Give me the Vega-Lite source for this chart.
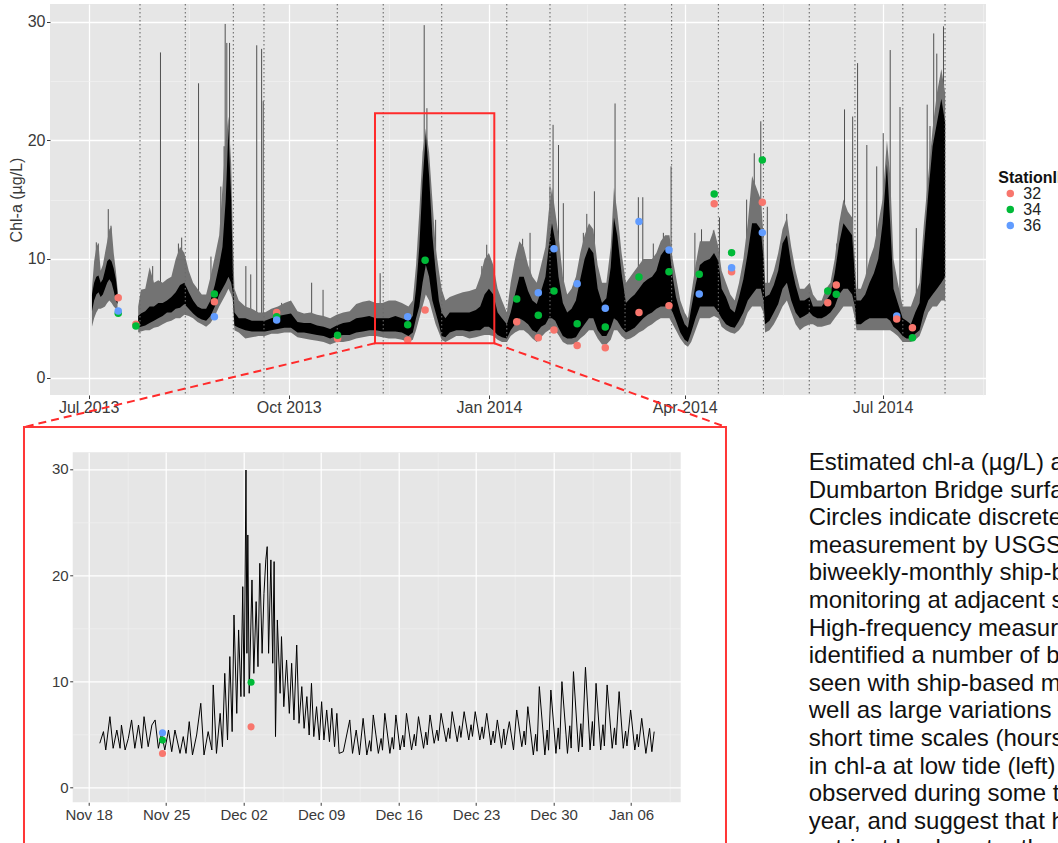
{
"$schema": "https://vega.github.io/schema/vega-lite/v6.json",
"autosize": {"type": "none"},
"padding": {"left": 50, "top": 4, "right": 1008, "bottom": 839},
"bounds": "flush",
"spacing": 57.3,
"config": {
  "font": "Liberation Sans",
  "view": {"stroke": null},
  "axis": {"domain": false, "labelColor": "#3a3a3a", "tickColor": "#3a3a3a", "tickWidth": 1}
},
"resolve": {"scale": {"color": "independent"}, "legend": {"color": "independent"}},
"datasets": {
  "hf": [
    {"t":"2013-07-02T12:00","lo":4.3,"hi":7.5,"a":5.6,"b":7.0,"g":1},
    {"t":"2013-07-03T12:00","lo":5.0,"hi":9.8,"a":6.5,"b":8.0,"g":1},
    {"t":"2013-07-04T12:00","lo":5.5,"hi":11.0,"a":7.0,"b":8.5,"g":1},
    {"t":"2013-07-05T12:00","lo":5.8,"hi":11.3,"a":7.2,"b":8.6,"g":1},
    {"t":"2013-07-06T12:00","lo":5.8,"hi":9.0,"a":6.8,"b":8.0,"g":1},
    {"t":"2013-07-07T12:00","lo":5.9,"hi":9.5,"a":7.0,"b":8.3,"g":1},
    {"t":"2013-07-08T12:00","lo":6.0,"hi":10.5,"a":7.5,"b":9.0,"g":1},
    {"t":"2013-07-09T12:00","lo":6.3,"hi":11.5,"a":8.0,"b":9.8,"g":1},
    {"t":"2013-07-10T12:00","lo":6.5,"hi":12.5,"a":8.3,"b":10.0,"g":1},
    {"t":"2013-07-11T12:00","lo":6.3,"hi":12.7,"a":8.0,"b":9.8,"g":1},
    {"t":"2013-07-12T12:00","lo":6.0,"hi":10.5,"a":7.3,"b":9.2,"g":1},
    {"t":"2013-07-13T12:00","lo":5.8,"hi":9.0,"a":6.5,"b":8.3,"g":1},
    {"t":"2013-07-14T06:00","lo":5.8,"hi":7.5,"a":6.2,"b":7.2,"g":1},
    {"t":"2013-07-23T18:00","lo":3.8,"hi":6.0,"a":4.2,"b":5.2,"g":2},
    {"t":"2013-07-25T00:00","lo":3.9,"hi":7.4,"a":4.3,"b":5.4,"g":2},
    {"t":"2013-07-27T00:00","lo":4.0,"hi":7.5,"a":4.4,"b":5.6,"g":2},
    {"t":"2013-07-29T00:00","lo":4.0,"hi":9.3,"a":4.6,"b":6.0,"g":2},
    {"t":"2013-07-31T00:00","lo":4.2,"hi":8.0,"a":4.8,"b":6.0,"g":2},
    {"t":"2013-08-02T00:00","lo":4.3,"hi":8.2,"a":5.0,"b":6.3,"g":2},
    {"t":"2013-08-04T00:00","lo":4.5,"hi":8.0,"a":5.2,"b":6.3,"g":2},
    {"t":"2013-08-06T00:00","lo":4.7,"hi":8.3,"a":5.5,"b":6.5,"g":2},
    {"t":"2013-08-08T00:00","lo":4.8,"hi":8.5,"a":5.5,"b":6.8,"g":2},
    {"t":"2013-08-10T00:00","lo":5.0,"hi":10.0,"a":5.8,"b":7.2,"g":2},
    {"t":"2013-08-12T00:00","lo":5.0,"hi":11.0,"a":5.9,"b":7.8,"g":2},
    {"t":"2013-08-14T00:00","lo":5.3,"hi":10.5,"a":6.2,"b":8.0,"g":2},
    {"t":"2013-08-16T00:00","lo":5.2,"hi":9.0,"a":5.8,"b":7.2,"g":2},
    {"t":"2013-08-18T00:00","lo":5.0,"hi":8.0,"a":5.4,"b":6.5,"g":2},
    {"t":"2013-08-20T00:00","lo":4.7,"hi":7.5,"a":5.1,"b":6.0,"g":2},
    {"t":"2013-08-22T00:00","lo":4.5,"hi":7.0,"a":4.9,"b":5.8,"g":2},
    {"t":"2013-08-24T00:00","lo":4.3,"hi":7.0,"a":4.8,"b":5.8,"g":2},
    {"t":"2013-08-26T00:00","lo":4.6,"hi":8.5,"a":5.2,"b":6.5,"g":2},
    {"t":"2013-08-28T00:00","lo":5.2,"hi":10.2,"a":6.0,"b":7.8,"g":2},
    {"t":"2013-08-30T00:00","lo":6.0,"hi":12.0,"a":7.0,"b":9.5,"g":2},
    {"t":"2013-08-31T12:00","lo":6.5,"hi":16.0,"a":7.5,"b":11.0,"g":2},
    {"t":"2013-09-02T00:00","lo":7.0,"hi":20.0,"a":8.0,"b":15.0,"g":2},
    {"t":"2013-09-03T06:00","lo":7.5,"hi":22.0,"a":8.5,"b":21.0,"g":2},
    {"t":"2013-09-04T12:00","lo":7.0,"hi":18.0,"a":8.0,"b":15.0,"g":2},
    {"t":"2013-09-05T06:00","lo":6.5,"hi":12.0,"a":7.2,"b":9.0,"g":2},
    {"t":"2013-09-06T00:00","lo":4.0,"hi":7.5,"a":4.4,"b":5.5,"g":2},
    {"t":"2013-09-08T00:00","lo":3.8,"hi":6.5,"a":4.2,"b":5.0,"g":2},
    {"t":"2013-09-11T00:00","lo":3.3,"hi":6.0,"a":4.0,"b":5.0,"g":2},
    {"t":"2013-09-14T00:00","lo":3.4,"hi":5.8,"a":3.9,"b":4.8,"g":2},
    {"t":"2013-09-17T00:00","lo":3.5,"hi":5.5,"a":3.9,"b":4.8,"g":2},
    {"t":"2013-09-20T00:00","lo":3.5,"hi":5.5,"a":3.9,"b":4.8,"g":2},
    {"t":"2013-09-23T00:00","lo":3.7,"hi":5.8,"a":4.0,"b":5.0,"g":2},
    {"t":"2013-09-26T00:00","lo":3.7,"hi":6.0,"a":4.1,"b":5.2,"g":2},
    {"t":"2013-09-29T00:00","lo":3.8,"hi":6.3,"a":4.2,"b":5.3,"g":2},
    {"t":"2013-10-02T00:00","lo":3.8,"hi":6.5,"a":4.2,"b":5.4,"g":2},
    {"t":"2013-10-05T00:00","lo":3.4,"hi":5.6,"a":3.8,"b":4.7,"g":2},
    {"t":"2013-10-08T00:00","lo":3.3,"hi":5.4,"a":3.8,"b":4.6,"g":2},
    {"t":"2013-10-11T00:00","lo":3.2,"hi":5.5,"a":3.7,"b":4.6,"g":2},
    {"t":"2013-10-14T00:00","lo":3.1,"hi":5.3,"a":3.6,"b":4.4,"g":2},
    {"t":"2013-10-17T00:00","lo":3.0,"hi":5.2,"a":3.5,"b":4.3,"g":2},
    {"t":"2013-10-20T00:00","lo":2.8,"hi":5.0,"a":3.3,"b":4.1,"g":2},
    {"t":"2013-10-23T00:00","lo":3.0,"hi":5.3,"a":3.5,"b":4.4,"g":2},
    {"t":"2013-10-26T00:00","lo":3.0,"hi":5.5,"a":3.6,"b":4.6,"g":2},
    {"t":"2013-10-29T00:00","lo":3.1,"hi":5.6,"a":3.6,"b":4.7,"g":2},
    {"t":"2013-11-01T00:00","lo":3.3,"hi":6.2,"a":3.8,"b":5.0,"g":2},
    {"t":"2013-11-04T00:00","lo":3.4,"hi":6.4,"a":3.9,"b":5.1,"g":2},
    {"t":"2013-11-07T00:00","lo":3.5,"hi":6.5,"a":4.0,"b":5.2,"g":2},
    {"t":"2013-11-10T00:00","lo":3.5,"hi":6.3,"a":4.0,"b":5.0,"g":2},
    {"t":"2013-11-13T00:00","lo":3.4,"hi":6.3,"a":3.9,"b":5.0,"g":2},
    {"t":"2013-11-16T00:00","lo":3.3,"hi":6.5,"a":3.9,"b":5.0,"g":2},
    {"t":"2013-11-19T00:00","lo":3.3,"hi":6.5,"a":3.9,"b":5.2,"g":2},
    {"t":"2013-11-22T00:00","lo":3.2,"hi":6.3,"a":3.8,"b":5.0,"g":2},
    {"t":"2013-11-25T00:00","lo":3.0,"hi":6.0,"a":3.5,"b":4.8,"g":2},
    {"t":"2013-11-27T00:00","lo":3.2,"hi":6.5,"a":3.8,"b":5.2,"g":2},
    {"t":"2013-11-28T12:00","lo":4.0,"hi":9.5,"a":5.0,"b":7.5,"g":2},
    {"t":"2013-11-30T00:00","lo":5.0,"hi":14.0,"a":6.0,"b":11.0,"g":2},
    {"t":"2013-12-01T12:00","lo":6.0,"hi":19.0,"a":8.0,"b":16.5,"g":2},
    {"t":"2013-12-03T00:00","lo":7.0,"hi":21.0,"a":9.5,"b":20.5,"g":2},
    {"t":"2013-12-04T12:00","lo":6.5,"hi":19.0,"a":8.5,"b":17.0,"g":2},
    {"t":"2013-12-06T00:00","lo":5.5,"hi":15.0,"a":6.5,"b":12.0,"g":2},
    {"t":"2013-12-07T12:00","lo":4.5,"hi":11.0,"a":5.5,"b":9.0,"g":2},
    {"t":"2013-12-09T00:00","lo":3.8,"hi":9.0,"a":4.5,"b":6.5,"g":2},
    {"t":"2013-12-10T06:00","lo":3.2,"hi":7.5,"a":3.5,"b":5.5,"g":2},
    {"t":"2013-12-12T00:00","lo":3.0,"hi":6.5,"a":3.4,"b":5.0,"g":2},
    {"t":"2013-12-14T00:00","lo":3.2,"hi":6.8,"a":3.8,"b":5.5,"g":2},
    {"t":"2013-12-17T00:00","lo":3.5,"hi":7.0,"a":4.0,"b":5.5,"g":2},
    {"t":"2013-12-20T00:00","lo":3.5,"hi":7.2,"a":4.0,"b":5.5,"g":2},
    {"t":"2013-12-23T00:00","lo":3.3,"hi":7.3,"a":3.9,"b":5.5,"g":2},
    {"t":"2013-12-26T00:00","lo":3.4,"hi":7.5,"a":4.0,"b":5.7,"g":2},
    {"t":"2013-12-28T00:00","lo":3.5,"hi":8.5,"a":4.0,"b":6.0,"g":2},
    {"t":"2013-12-30T00:00","lo":3.6,"hi":10.0,"a":4.3,"b":7.0,"g":2},
    {"t":"2014-01-01T00:00","lo":3.6,"hi":10.5,"a":4.3,"b":7.5,"g":2},
    {"t":"2014-01-03T00:00","lo":3.5,"hi":9.5,"a":4.0,"b":7.0,"g":2},
    {"t":"2014-01-05T00:00","lo":3.2,"hi":7.5,"a":3.6,"b":5.5,"g":2},
    {"t":"2014-01-07T00:00","lo":3.0,"hi":6.5,"a":3.4,"b":5.0,"g":2},
    {"t":"2014-01-09T06:00","lo":3.0,"hi":5.5,"a":3.3,"b":4.5,"g":2},
    {"t":"2014-01-11T00:00","lo":3.5,"hi":8.0,"a":4.0,"b":5.5,"g":2},
    {"t":"2014-01-13T00:00","lo":3.8,"hi":10.0,"a":4.5,"b":7.0,"g":2},
    {"t":"2014-01-15T00:00","lo":4.0,"hi":11.5,"a":5.0,"b":8.5,"g":2},
    {"t":"2014-01-17T00:00","lo":4.0,"hi":11.0,"a":4.8,"b":8.5,"g":2},
    {"t":"2014-01-19T00:00","lo":3.7,"hi":9.5,"a":4.5,"b":7.3,"g":2},
    {"t":"2014-01-21T00:00","lo":3.3,"hi":8.5,"a":4.0,"b":6.5,"g":2},
    {"t":"2014-01-23T00:00","lo":3.0,"hi":8.0,"a":3.8,"b":6.2,"g":2},
    {"t":"2014-01-25T00:00","lo":3.4,"hi":9.5,"a":4.3,"b":7.3,"g":2},
    {"t":"2014-01-27T00:00","lo":3.8,"hi":11.0,"a":4.5,"b":8.5,"g":2},
    {"t":"2014-01-28T12:00","lo":4.0,"hi":14.0,"a":5.0,"b":11.0,"g":2},
    {"t":"2014-01-30T00:00","lo":4.2,"hi":16.0,"a":5.0,"b":13.0,"g":2},
    {"t":"2014-01-31T12:00","lo":4.0,"hi":14.0,"a":4.8,"b":11.5,"g":2},
    {"t":"2014-02-02T00:00","lo":3.6,"hi":12.0,"a":4.2,"b":8.5,"g":2},
    {"t":"2014-02-04T00:00","lo":3.0,"hi":8.5,"a":3.5,"b":6.3,"g":2},
    {"t":"2014-02-06T00:00","lo":2.8,"hi":7.0,"a":3.3,"b":5.5,"g":2},
    {"t":"2014-02-08T00:00","lo":2.8,"hi":7.5,"a":3.3,"b":5.8,"g":2},
    {"t":"2014-02-10T00:00","lo":2.9,"hi":8.5,"a":3.4,"b":6.5,"g":2},
    {"t":"2014-02-12T00:00","lo":3.3,"hi":10.5,"a":4.0,"b":8.3,"g":2},
    {"t":"2014-02-14T00:00","lo":3.6,"hi":12.0,"a":4.5,"b":10.0,"g":2},
    {"t":"2014-02-16T00:00","lo":4.0,"hi":13.0,"a":5.0,"b":11.0,"g":2},
    {"t":"2014-02-18T00:00","lo":4.0,"hi":12.5,"a":5.0,"b":10.5,"g":2},
    {"t":"2014-02-20T00:00","lo":3.3,"hi":9.5,"a":4.0,"b":7.5,"g":2},
    {"t":"2014-02-22T00:00","lo":2.8,"hi":8.0,"a":3.5,"b":6.3,"g":2},
    {"t":"2014-02-24T00:00","lo":2.8,"hi":8.0,"a":3.5,"b":6.7,"g":2},
    {"t":"2014-02-26T00:00","lo":3.2,"hi":11.0,"a":4.2,"b":9.3,"g":2},
    {"t":"2014-02-27T12:00","lo":4.0,"hi":16.0,"a":5.0,"b":13.5,"g":2},
    {"t":"2014-03-01T00:00","lo":4.0,"hi":14.0,"a":4.8,"b":12.0,"g":2},
    {"t":"2014-03-03T00:00","lo":3.5,"hi":10.5,"a":4.2,"b":8.8,"g":2},
    {"t":"2014-03-05T00:00","lo":3.2,"hi":8.0,"a":3.8,"b":6.3,"g":2},
    {"t":"2014-03-07T00:00","lo":3.3,"hi":8.5,"a":4.0,"b":6.7,"g":2},
    {"t":"2014-03-09T00:00","lo":3.5,"hi":9.0,"a":4.2,"b":7.0,"g":2},
    {"t":"2014-03-11T00:00","lo":3.8,"hi":9.5,"a":4.6,"b":7.5,"g":2},
    {"t":"2014-03-13T00:00","lo":4.0,"hi":10.0,"a":5.0,"b":8.0,"g":2},
    {"t":"2014-03-15T00:00","lo":4.3,"hi":10.0,"a":5.3,"b":8.3,"g":2},
    {"t":"2014-03-17T00:00","lo":4.5,"hi":10.0,"a":5.5,"b":8.5,"g":2},
    {"t":"2014-03-19T00:00","lo":4.8,"hi":10.5,"a":5.8,"b":9.0,"g":2},
    {"t":"2014-03-21T00:00","lo":5.0,"hi":11.5,"a":6.0,"b":10.3,"g":2},
    {"t":"2014-03-23T00:00","lo":5.0,"hi":12.0,"a":6.0,"b":10.8,"g":2},
    {"t":"2014-03-25T00:00","lo":5.0,"hi":12.0,"a":6.0,"b":10.8,"g":2},
    {"t":"2014-03-26T12:00","lo":4.5,"hi":10.0,"a":5.5,"b":8.5,"g":2},
    {"t":"2014-03-28T00:00","lo":4.0,"hi":8.5,"a":4.8,"b":6.8,"g":2},
    {"t":"2014-03-30T00:00","lo":3.3,"hi":6.5,"a":3.8,"b":5.5,"g":2},
    {"t":"2014-04-01T00:00","lo":2.8,"hi":5.5,"a":3.2,"b":4.5,"g":2},
    {"t":"2014-04-02T12:00","lo":2.6,"hi":5.0,"a":3.0,"b":4.2,"g":2},
    {"t":"2014-04-04T00:00","lo":3.0,"hi":7.0,"a":3.8,"b":5.8,"g":2},
    {"t":"2014-04-06T00:00","lo":4.0,"hi":9.5,"a":5.0,"b":7.8,"g":2},
    {"t":"2014-04-08T00:00","lo":5.0,"hi":11.5,"a":6.0,"b":9.5,"g":2},
    {"t":"2014-04-10T00:00","lo":5.0,"hi":11.5,"a":6.0,"b":9.8,"g":2},
    {"t":"2014-04-12T12:00","lo":5.0,"hi":11.5,"a":6.0,"b":10.0,"g":2},
    {"t":"2014-04-14T12:00","lo":5.2,"hi":12.5,"a":6.0,"b":10.5,"g":2},
    {"t":"2014-04-16T12:00","lo":5.0,"hi":11.0,"a":5.5,"b":9.8,"g":2},
    {"t":"2014-04-18T00:00","lo":4.3,"hi":9.0,"a":5.0,"b":7.5,"g":2},
    {"t":"2014-04-20T00:00","lo":4.0,"hi":8.0,"a":4.5,"b":6.8,"g":2},
    {"t":"2014-04-22T00:00","lo":3.8,"hi":7.0,"a":4.3,"b":5.8,"g":2},
    {"t":"2014-04-24T00:00","lo":3.7,"hi":6.5,"a":4.2,"b":5.5,"g":2},
    {"t":"2014-04-26T00:00","lo":4.0,"hi":8.0,"a":4.8,"b":6.8,"g":2},
    {"t":"2014-04-28T00:00","lo":4.5,"hi":10.0,"a":5.5,"b":8.3,"g":2},
    {"t":"2014-04-30T00:00","lo":5.5,"hi":13.0,"a":6.5,"b":10.5,"g":2},
    {"t":"2014-05-02T00:00","lo":6.0,"hi":17.0,"a":7.0,"b":13.0,"g":2},
    {"t":"2014-05-04T00:00","lo":6.0,"hi":16.0,"a":7.5,"b":13.0,"g":2},
    {"t":"2014-05-06T00:00","lo":6.0,"hi":15.0,"a":7.5,"b":12.5,"g":2},
    {"t":"2014-05-07T06:00","lo":5.5,"hi":12.0,"a":6.5,"b":10.0,"g":2},
    {"t":"2014-05-08T00:00","lo":3.8,"hi":8.0,"a":4.5,"b":6.8,"g":2},
    {"t":"2014-05-10T00:00","lo":4.0,"hi":8.0,"a":4.8,"b":7.0,"g":2},
    {"t":"2014-05-12T00:00","lo":4.5,"hi":9.0,"a":5.5,"b":7.8,"g":2},
    {"t":"2014-05-14T00:00","lo":5.2,"hi":10.5,"a":6.2,"b":9.0,"g":2},
    {"t":"2014-05-16T00:00","lo":6.0,"hi":12.5,"a":7.5,"b":11.3,"g":2},
    {"t":"2014-05-18T00:00","lo":6.5,"hi":13.5,"a":8.0,"b":12.0,"g":2},
    {"t":"2014-05-20T00:00","lo":5.5,"hi":11.0,"a":6.5,"b":9.5,"g":2},
    {"t":"2014-05-22T00:00","lo":4.5,"hi":9.0,"a":5.5,"b":7.8,"g":2},
    {"t":"2014-05-24T00:00","lo":4.0,"hi":7.5,"a":5.0,"b":6.5,"g":2},
    {"t":"2014-05-26T00:00","lo":4.3,"hi":7.5,"a":5.2,"b":6.5,"g":2},
    {"t":"2014-05-28T12:00","lo":4.5,"hi":8.0,"a":5.5,"b":6.8,"g":2},
    {"t":"2014-05-30T00:00","lo":4.5,"hi":7.0,"a":5.2,"b":6.0,"g":2},
    {"t":"2014-06-01T00:00","lo":4.3,"hi":6.5,"a":5.0,"b":6.0,"g":2},
    {"t":"2014-06-03T00:00","lo":4.3,"hi":6.5,"a":5.0,"b":6.0,"g":2},
    {"t":"2014-06-05T00:00","lo":4.4,"hi":7.5,"a":5.2,"b":6.5,"g":2},
    {"t":"2014-06-07T00:00","lo":4.5,"hi":8.0,"a":5.5,"b":7.0,"g":2},
    {"t":"2014-06-09T00:00","lo":5.0,"hi":10.0,"a":6.0,"b":8.8,"g":2},
    {"t":"2014-06-11T00:00","lo":5.5,"hi":13.0,"a":7.0,"b":11.3,"g":2},
    {"t":"2014-06-13T00:00","lo":6.0,"hi":15.0,"a":7.5,"b":13.0,"g":2},
    {"t":"2014-06-15T00:00","lo":6.0,"hi":14.0,"a":7.5,"b":12.5,"g":2},
    {"t":"2014-06-17T00:00","lo":6.0,"hi":13.5,"a":7.0,"b":12.0,"g":2},
    {"t":"2014-06-18T06:00","lo":5.0,"hi":10.0,"a":6.0,"b":8.5,"g":2},
    {"t":"2014-06-19T00:00","lo":4.0,"hi":7.5,"a":4.5,"b":6.5,"g":2},
    {"t":"2014-06-21T00:00","lo":4.0,"hi":7.5,"a":4.5,"b":6.5,"g":2},
    {"t":"2014-06-23T00:00","lo":4.0,"hi":8.5,"a":4.8,"b":7.0,"g":2},
    {"t":"2014-06-25T00:00","lo":4.0,"hi":10.0,"a":5.0,"b":8.0,"g":2},
    {"t":"2014-06-27T00:00","lo":4.0,"hi":11.0,"a":5.0,"b":8.8,"g":2},
    {"t":"2014-06-29T00:00","lo":4.0,"hi":13.0,"a":5.0,"b":10.0,"g":2},
    {"t":"2014-07-01T00:00","lo":4.0,"hi":15.0,"a":5.0,"b":13.0,"g":2},
    {"t":"2014-07-03T00:00","lo":4.0,"hi":20.0,"a":5.0,"b":18.0,"g":2},
    {"t":"2014-07-04T12:00","lo":4.0,"hi":17.0,"a":4.8,"b":13.0,"g":2},
    {"t":"2014-07-06T00:00","lo":3.8,"hi":10.0,"a":4.3,"b":7.5,"g":2},
    {"t":"2014-07-08T00:00","lo":3.5,"hi":8.0,"a":4.0,"b":6.3,"g":2},
    {"t":"2014-07-10T06:00","lo":3.0,"hi":6.0,"a":3.5,"b":5.0,"g":2},
    {"t":"2014-07-12T00:00","lo":3.0,"hi":6.0,"a":3.3,"b":4.8,"g":2},
    {"t":"2014-07-14T00:00","lo":3.0,"hi":6.0,"a":3.3,"b":4.5,"g":2},
    {"t":"2014-07-16T00:00","lo":3.2,"hi":7.0,"a":3.7,"b":5.5,"g":2},
    {"t":"2014-07-18T00:00","lo":3.5,"hi":8.0,"a":4.0,"b":6.3,"g":2},
    {"t":"2014-07-20T00:00","lo":4.5,"hi":13.0,"a":5.5,"b":11.0,"g":2},
    {"t":"2014-07-22T00:00","lo":5.5,"hi":17.0,"a":6.5,"b":15.5,"g":2},
    {"t":"2014-07-24T00:00","lo":6.0,"hi":21.0,"a":7.0,"b":19.5,"g":2},
    {"t":"2014-07-26T00:00","lo":6.0,"hi":24.0,"a":7.5,"b":21.5,"g":2},
    {"t":"2014-07-28T00:00","lo":6.5,"hi":26.0,"a":8.0,"b":23.5,"g":2},
    {"t":"2014-07-29T18:00","lo":6.5,"hi":24.0,"a":8.5,"b":21.5,"g":2}
  ],
  "spk": [
    {"t":"2013-07-04T12:00","v":11.4,"b":7.5},{"t":"2013-07-05T10:00","v":11.3,"b":7.5},{"t":"2013-07-10T00:00","v":14.2,"b":8.5},{"t":"2013-07-11T06:00","v":12.8,"b":8.5},
    {"t":"2013-07-30T10:00","v":9.4,"b":5.2},{"t":"2013-08-03T00:00","v":27.4,"b":5.6},{"t":"2013-08-11T06:00","v":11.3,"b":6.5},{"t":"2013-08-12T18:00","v":11.8,"b":6.8},
    {"t":"2013-08-20T12:00","v":24.8,"b":5.5},{"t":"2013-08-26T05:00","v":10.2,"b":5.8},{"t":"2013-08-28T19:00","v":9.9,"b":7.0},{"t":"2013-08-30T18:00","v":16.1,"b":8.5},{"t":"2013-09-01T06:00","v":19.5,"b":9.5},
    {"t":"2013-09-01T18:00","v":29.8,"b":10},{"t":"2013-09-02T12:00","v":28.2,"b":10},{"t":"2013-09-03T18:00","v":28.2,"b":10},
    {"t":"2013-09-11T06:00","v":9.4,"b":4.5},{"t":"2013-09-13T12:00","v":8.7,"b":4.4},{"t":"2013-09-16T06:00","v":28.0,"b":4.4},
    {"t":"2013-09-18T12:00","v":27.7,"b":4.4},{"t":"2013-09-19T06:00","v":23.3,"b":4.4},{"t":"2013-09-27T17:00","v":6.3,"b":4.6},{"t":"2013-10-02T12:00","v":6.2,"b":4.6},{"t":"2013-10-11T12:00","v":8.0,"b":4.1},
    {"t":"2013-10-16T18:00","v":7.4,"b":4.0},{"t":"2013-11-12T00:00","v":8.8,"b":4.5},{"t":"2013-12-02T06:00","v":29.7,"b":12},
    {"t":"2013-12-03T12:00","v":22.7,"b":12},{"t":"2013-12-07T12:00","v":13.3,"b":7.0},{"t":"2013-12-28T18:00","v":9.4,"b":5.5},
    {"t":"2013-12-31T00:00","v":11.2,"b":5.8},{"t":"2014-01-16T12:00","v":11.7,"b":6.5},{"t":"2014-01-19T22:00","v":12.2,"b":5.8},{"t":"2014-01-29T02:00","v":16.1,"b":8.0},{"t":"2014-01-30T12:00","v":21.3,"b":9.0},
    {"t":"2014-02-02T00:00","v":19.6,"b":6.5},{"t":"2014-02-04T05:00","v":14.7,"b":5.0},{"t":"2014-02-13T10:00","v":12.2,"b":7.0},{"t":"2014-02-15T00:00","v":13.8,"b":7.5},{"t":"2014-02-18T12:00","v":15.7,"b":7.5},
    {"t":"2014-02-28T00:00","v":23.1,"b":9.0},{"t":"2014-03-10T17:00","v":15.2,"b":6.0},{"t":"2014-03-12T18:00","v":15.2,"b":6.5},{"t":"2014-03-17T14:00","v":11.3,"b":7.0},{"t":"2014-03-22T05:00","v":12.2,"b":8.0},{"t":"2014-03-25T18:00","v":17.8,"b":8.0},
    {"t":"2014-04-05T17:00","v":12.2,"b":6.5},{"t":"2014-04-08T18:00","v":12.5,"b":7.5},{"t":"2014-04-14T05:00","v":12.4,"b":8.0},{"t":"2014-04-17T00:00","v":13.5,"b":6.5},{"t":"2014-04-29T12:00","v":15.0,"b":8.0},{"t":"2014-05-03T00:00","v":18.9,"b":10},
    {"t":"2014-05-06T00:00","v":21.6,"b":10},{"t":"2014-05-09T00:00","v":14.4,"b":6.0},{"t":"2014-05-17T22:00","v":13.8,"b":9.5},{"t":"2014-06-09T22:00","v":11.3,"b":7.5},{"t":"2014-06-13T12:00","v":22.6,"b":10},{"t":"2014-06-17T06:00","v":22.0,"b":9.5},
    {"t":"2014-06-19T12:00","v":26.5,"b":5.5},{"t":"2014-06-23T18:00","v":19.6,"b":6.0},{"t":"2014-06-28T07:00","v":17.8,"b":7.5},{"t":"2014-07-01T07:00","v":20.6,"b":9.0},{"t":"2014-07-04T12:00","v":27.6,"b":9.0},{"t":"2014-07-09T00:00","v":22.8,"b":5.0},
    {"t":"2014-07-16T12:00","v":12.6,"b":4.7},{"t":"2014-07-21T12:00","v":23.0,"b":9.5},{"t":"2014-07-22T19:00","v":21.2,"b":10.5},{"t":"2014-07-24T12:00","v":29.0,"b":13},{"t":"2014-07-25T22:00","v":27.3,"b":13.5},
    {"t":"2014-07-27T06:00","v":25.0,"b":14},{"t":"2014-07-29T00:00","v":29.6,"b":14}
  ],
  "dep": [
    {"t":"2013-07-24T14:00"},{"t":"2013-08-14T10:00"},{"t":"2013-09-05T12:00"},{"t":"2013-09-19T14:00"},
    {"t":"2013-10-23T07:00"},{"t":"2013-11-13T10:00"},{"t":"2013-12-10T07:00"},{"t":"2014-01-09T05:00"},
    {"t":"2014-01-29T02:00"},{"t":"2014-03-04T14:00"},{"t":"2014-03-26T00:00"},{"t":"2014-04-16T12:00"},
    {"t":"2014-05-07T05:00"},{"t":"2014-05-28T07:00"},{"t":"2014-06-18T07:00"},{"t":"2014-07-10T07:00"},
    {"t":"2014-07-29T17:00"}
  ],
  "pts": [
    {"t":"2013-07-14T14:00","v":6.74,"s":"32"},{"t":"2013-07-14T14:00","v":5.42,"s":"34"},{"t":"2013-07-14T14:00","v":5.62,"s":"36"},
    {"t":"2013-07-22T17:00","v":4.5,"s":"32"},{"t":"2013-07-22T17:00","v":4.35,"s":"34"},
    {"t":"2013-08-27T19:00","v":6.4,"s":"32"},{"t":"2013-08-27T19:00","v":7.05,"s":"34"},{"t":"2013-08-27T19:00","v":5.14,"s":"36"},
    {"t":"2013-09-25T10:00","v":5.5,"s":"32"},{"t":"2013-09-25T10:00","v":5.14,"s":"34"},{"t":"2013-09-25T10:00","v":4.86,"s":"36"},
    {"t":"2013-10-23T10:00","v":3.3,"s":"32"},{"t":"2013-10-23T10:00","v":3.57,"s":"34"},
    {"t":"2013-11-24T16:00","v":3.18,"s":"32"},{"t":"2013-11-24T16:00","v":4.45,"s":"34"},{"t":"2013-11-24T16:00","v":5.14,"s":"36"},
    {"t":"2013-12-02T16:00","v":5.7,"s":"32"},{"t":"2013-12-02T16:00","v":9.9,"s":"34"},
    {"t":"2014-01-13T19:00","v":4.72,"s":"32"},{"t":"2014-01-13T19:00","v":6.63,"s":"34"},
    {"t":"2014-01-23T17:00","v":3.37,"s":"32"},{"t":"2014-01-23T17:00","v":5.25,"s":"34"},{"t":"2014-01-23T17:00","v":7.16,"s":"36"},
    {"t":"2014-01-30T22:00","v":4.02,"s":"32"},{"t":"2014-01-30T22:00","v":7.3,"s":"34"},{"t":"2014-01-30T22:00","v":10.87,"s":"36"},
    {"t":"2014-02-10T14:00","v":2.72,"s":"32"},{"t":"2014-02-10T14:00","v":4.55,"s":"34"},{"t":"2014-02-10T14:00","v":7.92,"s":"36"},
    {"t":"2014-02-23T12:00","v":2.53,"s":"32"},{"t":"2014-02-23T12:00","v":4.27,"s":"34"},{"t":"2014-02-23T12:00","v":5.84,"s":"36"},
    {"t":"2014-03-11T00:00","v":5.5,"s":"32"},{"t":"2014-03-11T00:00","v":8.48,"s":"34"},{"t":"2014-03-11T00:00","v":13.15,"s":"36"},
    {"t":"2014-03-24T19:00","v":6.07,"s":"32"},{"t":"2014-03-24T19:00","v":8.93,"s":"34"},{"t":"2014-03-24T19:00","v":10.76,"s":"36"},
    {"t":"2014-04-07T17:00","v":8.71,"s":"34"},{"t":"2014-04-07T17:00","v":7.05,"s":"36"},
    {"t":"2014-04-14T14:00","v":14.66,"s":"32"},{"t":"2014-04-14T14:00","v":15.48,"s":"34"},
    {"t":"2014-04-22T14:00","v":8.93,"s":"32"},{"t":"2014-04-22T14:00","v":10.53,"s":"34"},{"t":"2014-04-22T14:00","v":9.27,"s":"36"},
    {"t":"2014-05-06T17:00","v":14.78,"s":"32"},{"t":"2014-05-06T17:00","v":18.34,"s":"34"},{"t":"2014-05-06T17:00","v":12.22,"s":"36"},
    {"t":"2014-06-05T19:00","v":6.32,"s":"32"},{"t":"2014-06-05T19:00","v":7.3,"s":"34"},
    {"t":"2014-06-09T17:00","v":7.81,"s":"32"},{"t":"2014-06-09T17:00","v":7.02,"s":"34"},
    {"t":"2014-07-07T12:00","v":5.2,"s":"36"},{"t":"2014-07-07T12:00","v":4.94,"s":"32"},
    {"t":"2014-07-14T17:00","v":4.21,"s":"32"},{"t":"2014-07-14T17:00","v":3.37,"s":"34"}
  ],
  "box": [{"t":"2013-11-09T15:00","t2":"2014-01-03T11:30","v":2.9,"v2":22.27}],
  "conn": [
    {"t":"2013-11-09T15:00","v":2.9,"g":"L","o":1},{"t":"2013-06-01T06:00","v":-4.16,"g":"L","o":2},
    {"t":"2014-01-03T11:30","v":2.9,"g":"R","o":1},{"t":"2014-04-20T00:00","v":-4.16,"g":"R","o":2}
  ],
  "frame": [
    {"t":"2013-06-01T06:00","v":-40,"o":1},{"t":"2013-06-01T06:00","v":-4.16,"o":2},
    {"t":"2014-04-20T00:00","v":-4.16,"o":3},{"t":"2014-04-20T00:00","v":-40,"o":4}
  ],
  "ins": [
    {"t":"2013-11-19T00:00","v":4.15},{"t":"2013-11-19T08:00","v":5.25},{"t":"2013-11-19T13:00","v":3.52},
    {"t":"2013-11-19T22:00","v":6.66},{"t":"2013-11-20T05:00","v":3.68},{"t":"2013-11-20T13:00","v":5.4},
    {"t":"2013-11-20T20:00","v":3.68},{"t":"2013-11-20T23:00","v":5.87},{"t":"2013-11-21T07:00","v":3.52},
    {"t":"2013-11-21T14:00","v":4.62},{"t":"2013-11-21T21:00","v":6.35},{"t":"2013-11-22T04:00","v":3.68},
    {"t":"2013-11-22T12:00","v":5.87},{"t":"2013-11-22T19:00","v":3.68},{"t":"2013-11-23T00:00","v":6.66},
    {"t":"2013-11-23T09:00","v":3.83},{"t":"2013-11-23T17:00","v":5.87},{"t":"2013-11-24T00:00","v":6.35},
    {"t":"2013-11-24T07:00","v":3.68},{"t":"2013-11-24T14:00","v":5.09},{"t":"2013-11-24T21:00","v":3.52},
    {"t":"2013-11-25T05:00","v":5.4},{"t":"2013-11-25T12:00","v":3.36},{"t":"2013-11-25T19:00","v":5.4},
    {"t":"2013-11-26T06:00","v":3.2},{"t":"2013-11-26T13:00","v":4.78},{"t":"2013-11-26T19:00","v":3.2},
    {"t":"2013-11-27T02:00","v":6.19},{"t":"2013-11-27T09:00","v":3.05},{"t":"2013-11-27T18:00","v":4.93},
    {"t":"2013-11-28T03:00","v":7.92},{"t":"2013-11-28T10:00","v":3.05},{"t":"2013-11-28T19:00","v":5.25},
    {"t":"2013-11-29T03:00","v":3.52},{"t":"2013-11-29T06:00","v":9.65},{"t":"2013-11-29T13:00","v":3.2},
    {"t":"2013-11-29T21:00","v":6.97},{"t":"2013-11-30T02:00","v":3.83},{"t":"2013-11-30T07:00","v":10.74},
    {"t":"2013-11-30T13:00","v":4.46},{"t":"2013-11-30T18:00","v":12.32},{"t":"2013-11-30T23:00","v":5.25},
    {"t":"2013-12-01T03:00","v":16.24},{"t":"2013-12-01T09:00","v":6.97},{"t":"2013-12-01T13:00","v":14.83},
    {"t":"2013-12-01T18:00","v":8.55},{"t":"2013-12-01T22:00","v":18.91},{"t":"2013-12-02T01:00","v":8.55},
    {"t":"2013-12-02T05:00","v":29.9},{"t":"2013-12-02T07:00","v":12.63},{"t":"2013-12-02T09:00","v":23.78},
    {"t":"2013-12-02T12:00","v":8.86},{"t":"2013-12-02T18:00","v":19.54},{"t":"2013-12-02T22:00","v":10.74},
    {"t":"2013-12-03T03:00","v":17.5},{"t":"2013-12-03T07:00","v":11.37},{"t":"2013-12-03T11:00","v":21.11},
    {"t":"2013-12-03T16:00","v":12.63},{"t":"2013-12-03T20:00","v":18.28},{"t":"2013-12-04T00:00","v":21.43},
    {"t":"2013-12-04T03:00","v":22.68},{"t":"2013-12-04T06:00","v":12.63},{"t":"2013-12-04T11:00","v":21.43},
    {"t":"2013-12-04T15:00","v":11.69},{"t":"2013-12-04T18:00","v":21.27},{"t":"2013-12-04T21:00","v":4.78},
    {"t":"2013-12-05T01:00","v":15.77},{"t":"2013-12-05T07:00","v":8.86},{"t":"2013-12-05T10:00","v":14.2},
    {"t":"2013-12-05T15:00","v":7.6},{"t":"2013-12-05T21:00","v":12.0},{"t":"2013-12-06T03:00","v":6.97},
    {"t":"2013-12-06T08:00","v":11.69},{"t":"2013-12-06T13:00","v":6.35},{"t":"2013-12-06T19:00","v":13.41},
    {"t":"2013-12-07T00:00","v":6.03},{"t":"2013-12-07T06:00","v":9.49},{"t":"2013-12-07T11:00","v":5.56},
    {"t":"2013-12-07T17:00","v":8.55},{"t":"2013-12-07T22:00","v":4.93},{"t":"2013-12-08T03:00","v":9.8},
    {"t":"2013-12-08T08:00","v":4.78},{"t":"2013-12-08T14:00","v":7.6},{"t":"2013-12-08T20:00","v":4.46},
    {"t":"2013-12-09T01:00","v":8.07},{"t":"2013-12-09T06:00","v":4.46},{"t":"2013-12-09T12:00","v":7.29},
    {"t":"2013-12-09T18:00","v":4.3},{"t":"2013-12-09T23:00","v":7.45},{"t":"2013-12-10T05:00","v":3.83},
    {"t":"2013-12-10T10:00","v":6.97},{"t":"2013-12-10T15:00","v":3.2},{"t":"2013-12-11T00:00","v":3.36},
    {"t":"2013-12-11T14:00","v":6.35},{"t":"2013-12-11T20:00","v":3.2},{"t":"2013-12-12T04:00","v":5.4},
    {"t":"2013-12-12T11:00","v":3.05},{"t":"2013-12-12T19:00","v":6.5},
    {"t":"2013-12-13T03:00","v":3.05},{"t":"2013-12-13T09:00","v":4.4},{"t":"2013-12-13T12:00","v":3.4},{"t":"2013-12-13T17:00","v":6.82},
    {"t":"2013-12-14T04:00","v":3.2},{"t":"2013-12-14T10:00","v":4.6},{"t":"2013-12-14T13:00","v":3.5},{"t":"2013-12-14T18:00","v":6.97},
    {"t":"2013-12-15T05:00","v":3.2},{"t":"2013-12-15T10:00","v":4.7},{"t":"2013-12-15T13:00","v":3.6},{"t":"2013-12-15T18:00","v":6.82},
    {"t":"2013-12-16T03:00","v":3.52},{"t":"2013-12-16T09:00","v":4.9},{"t":"2013-12-16T12:00","v":3.8},{"t":"2013-12-16T17:00","v":6.97},
    {"t":"2013-12-17T04:00","v":3.52},{"t":"2013-12-17T10:00","v":5.0},{"t":"2013-12-17T13:00","v":3.9},{"t":"2013-12-17T19:00","v":6.66},
    {"t":"2013-12-18T06:00","v":3.68},{"t":"2013-12-18T11:00","v":5.2},{"t":"2013-12-18T14:00","v":4.0},{"t":"2013-12-18T20:00","v":6.82},
    {"t":"2013-12-19T05:00","v":4.15},{"t":"2013-12-19T11:00","v":5.4},{"t":"2013-12-19T14:00","v":4.4},{"t":"2013-12-19T20:00","v":6.97},
    {"t":"2013-12-20T07:00","v":4.3},{"t":"2013-12-20T12:00","v":5.6},{"t":"2013-12-20T15:00","v":4.6},{"t":"2013-12-20T20:00","v":7.13},
    {"t":"2013-12-21T07:00","v":4.3},{"t":"2013-12-21T12:00","v":5.8},{"t":"2013-12-21T15:00","v":4.7},{"t":"2013-12-21T22:00","v":7.13},
    {"t":"2013-12-22T08:00","v":4.46},{"t":"2013-12-22T13:00","v":5.9},{"t":"2013-12-22T16:00","v":4.8},{"t":"2013-12-22T22:00","v":7.13},
    {"t":"2013-12-23T08:00","v":4.46},{"t":"2013-12-23T13:00","v":5.7},{"t":"2013-12-23T16:00","v":4.6},{"t":"2013-12-23T23:00","v":6.97},
    {"t":"2013-12-24T08:00","v":3.99},{"t":"2013-12-24T13:00","v":5.3},{"t":"2013-12-24T16:00","v":4.2},{"t":"2013-12-24T22:00","v":6.35},
    {"t":"2013-12-25T07:00","v":3.68},{"t":"2013-12-25T12:00","v":5.5},{"t":"2013-12-25T15:00","v":4.0},{"t":"2013-12-26T00:00","v":6.19},
    {"t":"2013-12-26T09:00","v":3.52},{"t":"2013-12-26T16:00","v":7.29},
    {"t":"2013-12-27T03:00","v":3.83},{"t":"2013-12-27T08:00","v":5.3},{"t":"2013-12-27T11:00","v":4.0},{"t":"2013-12-27T16:00","v":7.6},
    {"t":"2013-12-28T04:00","v":3.05},{"t":"2013-12-28T09:00","v":5.0},{"t":"2013-12-28T12:00","v":3.4},{"t":"2013-12-28T17:00","v":9.49},
    {"t":"2013-12-29T05:00","v":3.05},{"t":"2013-12-29T10:00","v":5.4},{"t":"2013-12-29T13:00","v":3.5},{"t":"2013-12-29T18:00","v":9.17},
    {"t":"2013-12-30T05:00","v":3.2},{"t":"2013-12-30T10:00","v":5.6},{"t":"2013-12-30T13:00","v":3.6},{"t":"2013-12-30T18:00","v":9.96},
    {"t":"2013-12-31T06:00","v":3.2},{"t":"2013-12-31T11:00","v":5.8},{"t":"2013-12-31T14:00","v":3.7},{"t":"2013-12-31T19:00","v":10.9},
    {"t":"2014-01-01T06:00","v":3.36},{"t":"2014-01-01T11:00","v":6.0},{"t":"2014-01-01T14:00","v":3.8},{"t":"2014-01-01T21:00","v":11.31},
    {"t":"2014-01-02T07:00","v":3.52},{"t":"2014-01-02T12:00","v":6.2},{"t":"2014-01-02T15:00","v":3.9},{"t":"2014-01-02T20:00","v":9.8},
    {"t":"2014-01-03T06:00","v":3.52},{"t":"2014-01-03T11:00","v":5.9},{"t":"2014-01-03T14:00","v":3.9},{"t":"2014-01-03T20:00","v":9.65},
    {"t":"2014-01-04T07:00","v":3.68},{"t":"2014-01-04T12:00","v":5.6},{"t":"2014-01-04T15:00","v":4.0},{"t":"2014-01-04T22:00","v":9.02},
    {"t":"2014-01-05T07:00","v":3.68},{"t":"2014-01-05T12:00","v":5.3},{"t":"2014-01-05T15:00","v":3.9},{"t":"2014-01-05T23:00","v":7.29},
    {"t":"2014-01-06T08:00","v":3.52},{"t":"2014-01-06T13:00","v":5.0},{"t":"2014-01-06T16:00","v":3.8},{"t":"2014-01-06T23:00","v":6.5},
    {"t":"2014-01-07T08:00","v":3.2},{"t":"2014-01-07T16:00","v":5.56},{"t":"2014-01-07T21:00","v":3.36},{"t":"2014-01-08T02:00","v":5.25}
  ],
  "cap": [
    {"c":0,"line":1,"txt":"Estimated chl-a (µg/L) at the"},
    {"c":0,"line":2,"txt":"Dumbarton Bridge surface sensor."},
    {"c":0,"line":3,"txt":"Circles indicate discrete chl-a"},
    {"c":0,"line":4,"txt":"measurement by USGS"},
    {"c":0,"line":5,"txt":"biweekly-monthly ship-based"},
    {"c":0,"line":6,"txt":"monitoring at adjacent stations."},
    {"c":0,"line":7,"txt":"High-frequency measurements"},
    {"c":0,"line":8,"txt":"identified a number of blooms not"},
    {"c":0,"line":9,"txt":"seen with ship-based monitoring, as"},
    {"c":0,"line":10,"txt":"well as large variations in chl-a over"},
    {"c":0,"line":11,"txt":"short time scales (hours-days). Peaks"},
    {"c":0,"line":12,"txt":"in chl-a at low tide (left) were"},
    {"c":0,"line":13,"txt":"observed during some times of the"},
    {"c":0,"line":14,"txt":"year, and suggest that high"},
    {"c":0,"line":15,"txt":"nutrient loads enter the Bay at"}
  ]
},
"vconcat": [
  {
    "width": 936, "height": 391,
    "view": {"fill": "#E6E6E6", "stroke": null},
    "layer": [
      {
        "data": {"name": "spk"},
        "mark": {"type": "rule", "color": "#505050", "strokeWidth": 1},
        "encoding": {
          "x": {"field": "t", "type": "temporal",
            "scale": {"domain": [{"year": 2013, "month": 6, "date": 13, "hours": 5}, {"year": 2014, "month": 8, "date": 17, "hours": 13}], "nice": false},
            "axis": {
              "values": [{"year": 2013, "month": 7, "date": 1}, {"year": 2013, "month": 8, "date": 16}, {"year": 2013, "month": 10, "date": 1}, {"year": 2013, "month": 11, "date": 16}, {"year": 2014, "month": 1, "date": 1}, {"year": 2014, "month": 2, "date": 15}, {"year": 2014, "month": 4, "date": 1}, {"year": 2014, "month": 5, "date": 16}, {"year": 2014, "month": 7, "date": 1}, {"year": 2014, "month": 8, "date": 16}],
              "labelExpr": "month(datum.value) % 3 == 0 ? timeFormat(datum.value, '%b %Y') : ''",
              "gridColor": {"condition": {"test": "month(datum.value) % 3 == 0", "value": "#ffffff"}, "value": "#f3f3f3"},
              "gridWidth": {"condition": {"test": "month(datum.value) % 3 == 0", "value": 1.3}, "value": 0.6},
              "tickOpacity": {"condition": {"test": "month(datum.value) % 3 == 0", "value": 1}, "value": 0},
              "grid": true, "title": null, "labelFontSize": 16, "labelPadding": 1, "tickSize": 3.5,
              "labelOverlap": false, "labelFlush": false
            }
          },
          "y": {"field": "v", "type": "quantitative",
            "scale": {"domain": [-1.46, 31.48], "nice": false, "zero": false},
            "axis": {
              "values": [0, 5, 10, 15, 20, 25, 30],
              "labelExpr": "datum.value % 10 == 0 ? datum.label : ''",
              "gridColor": {"condition": {"test": "datum.value % 10 == 0", "value": "#ffffff"}, "value": "#f3f3f3"},
              "gridWidth": {"condition": {"test": "datum.value % 10 == 0", "value": 1.3}, "value": 0.6},
              "tickOpacity": {"condition": {"test": "datum.value % 10 == 0", "value": 1}, "value": 0},
              "grid": true, "title": "Chl-a (µg/L)", "titleFontSize": 16, "titleFontWeight": "normal",
              "titleColor": "#3a3a3a", "titlePadding": 3, "labelFontSize": 16, "labelPadding": 1.5, "tickSize": 3.5
            }
          },
          "y2": {"field": "b"}
        }
      },
      {
        "data": {"name": "hf"},
        "mark": {"type": "area", "color": "#737373", "opacity": 1},
        "encoding": {
          "x": {"field": "t", "type": "temporal"},
          "y": {"field": "lo", "type": "quantitative"},
          "y2": {"field": "hi"},
          "detail": {"field": "g"}
        }
      },
      {
        "data": {"name": "hf"},
        "mark": {"type": "area", "color": "#000000", "opacity": 1},
        "encoding": {
          "x": {"field": "t", "type": "temporal"},
          "y": {"field": "a", "type": "quantitative"},
          "y2": {"field": "b"},
          "detail": {"field": "g"}
        }
      },
      {
        "data": {"name": "dep"},
        "mark": {"type": "rule", "color": "#6a6a6a", "strokeWidth": 1.1, "strokeDash": [1.5, 2.5]},
        "encoding": {"x": {"field": "t", "type": "temporal"}}
      },
      {
        "data": {"name": "pts"},
        "mark": {"type": "circle", "size": 56, "opacity": 1},
        "encoding": {
          "x": {"field": "t", "type": "temporal"},
          "y": {"field": "v", "type": "quantitative"},
          "color": {"field": "s", "type": "nominal",
            "scale": {"domain": ["32", "34", "36"], "range": ["#F8766D", "#00BA38", "#619CFF"]},
            "legend": {"title": "StationID", "orient": "none", "legendX": 948.3, "legendY": 165.5, "padding": 0,
              "titleFontSize": 16, "titleFontWeight": "bold", "titleColor": "#111111", "titlePadding": 0,
              "labelFontSize": 16, "labelColor": "#222222", "symbolType": "circle", "symbolSize": 56,
              "symbolStrokeWidth": 0, "rowPadding": 0, "symbolOffset": 4, "labelOffset": 5}
          }
        }
      },
      {
        "data": {"name": "box"},
        "mark": {"type": "rect", "filled": false, "color": "#ff2b2b", "strokeWidth": 2},
        "encoding": {
          "x": {"field": "t", "type": "temporal"},
          "x2": {"field": "t2"},
          "y": {"field": "v", "type": "quantitative"},
          "y2": {"field": "v2"}
        }
      },
      {
        "data": {"name": "conn"},
        "mark": {"type": "line", "color": "#ff2b2b", "strokeWidth": 2, "strokeDash": [8, 5]},
        "encoding": {
          "x": {"field": "t", "type": "temporal"},
          "y": {"field": "v", "type": "quantitative"},
          "detail": {"field": "g"},
          "order": {"field": "o"}
        }
      },
      {
        "data": {"name": "frame"},
        "mark": {"type": "line", "color": "#ff3636", "strokeWidth": 2},
        "encoding": {
          "x": {"field": "t", "type": "temporal"},
          "y": {"field": "v", "type": "quantitative"},
          "order": {"field": "o"}
        }
      }
    ]
  },
  {
    "bounds": "flush",
    "spacing": 21.7,
    "hconcat": [
      {"width": 1, "height": 1, "data": {"values": []}, "mark": "point", "encoding": {}},
      {
        "bounds": "flush",
        "spacing": 128,
        "hconcat": [
          {
            "width": 608, "height": 350,
            "view": {"fill": "#E6E6E6", "stroke": null},
            "layer": [
              {
                "data": {"name": "ins"},
                "mark": {"type": "line", "color": "#000000", "strokeWidth": 1},
                "encoding": {
                  "x": {"field": "t", "type": "temporal",
                    "scale": {"domain": [{"year": 2013, "month": 11, "date": 16, "hours": 13, "minutes": 19}, {"year": 2014, "month": 1, "date": 10, "hours": 11, "minutes": 30}], "nice": false},
                    "axis": {
                      "values": [{"year": 2013, "month": 11, "date": 18}, {"year": 2013, "month": 11, "date": 21, "hours": 12}, {"year": 2013, "month": 11, "date": 25}, {"year": 2013, "month": 11, "date": 28, "hours": 12}, {"year": 2013, "month": 12, "date": 2}, {"year": 2013, "month": 12, "date": 5, "hours": 12}, {"year": 2013, "month": 12, "date": 9}, {"year": 2013, "month": 12, "date": 12, "hours": 12}, {"year": 2013, "month": 12, "date": 16}, {"year": 2013, "month": 12, "date": 19, "hours": 12}, {"year": 2013, "month": 12, "date": 23}, {"year": 2013, "month": 12, "date": 26, "hours": 12}, {"year": 2013, "month": 12, "date": 30}, {"year": 2014, "month": 1, "date": 2, "hours": 12}, {"year": 2014, "month": 1, "date": 6}, {"year": 2014, "month": 1, "date": 9, "hours": 12}],
                      "labelExpr": "hours(datum.value) == 0 ? timeFormat(datum.value, '%b %d') : ''",
                      "gridColor": {"condition": {"test": "hours(datum.value) == 0", "value": "#ffffff"}, "value": "#f3f3f3"},
                      "gridWidth": {"condition": {"test": "hours(datum.value) == 0", "value": 1.2}, "value": 0.6},
                      "tickOpacity": {"condition": {"test": "hours(datum.value) == 0", "value": 1}, "value": 0},
                      "grid": true, "title": null, "labelFontSize": 15, "labelPadding": 2, "tickSize": 3,
                      "labelOverlap": false, "labelFlush": false
                    }
                  },
                  "y": {"field": "v", "type": "quantitative",
                    "scale": {"domain": [-1.41, 31.57], "nice": false, "zero": false},
                    "axis": {
                      "values": [0, 5, 10, 15, 20, 25, 30],
                      "labelExpr": "datum.value % 10 == 0 ? datum.label : ''",
                      "gridColor": {"condition": {"test": "datum.value % 10 == 0", "value": "#ffffff"}, "value": "#f3f3f3"},
                      "gridWidth": {"condition": {"test": "datum.value % 10 == 0", "value": 1.2}, "value": 0.6},
                      "tickOpacity": {"condition": {"test": "datum.value % 10 == 0", "value": 1}, "value": 0},
                      "grid": true, "title": null, "labelFontSize": 15, "labelPadding": 1.5, "tickSize": 3
                    }
                  }
                }
              },
              {
                "data": {"name": "pts"},
                "mark": {"type": "circle", "size": 50, "opacity": 1, "clip": true},
                "encoding": {
                  "x": {"field": "t", "type": "temporal"},
                  "y": {"field": "v", "type": "quantitative"},
                  "color": {"field": "s", "type": "nominal",
                    "scale": {"domain": ["32", "34", "36"], "range": ["#F8766D", "#00BA38", "#619CFF"]},
                    "legend": null}
                }
              }
            ]
          },
          {
            "width": 249.3, "height": 390.7,
            "view": {"fill": null, "stroke": null},
            "data": {"name": "cap"},
            "mark": {"type": "text", "align": "left", "baseline": "alphabetic", "fontSize": 24, "font": "Liberation Sans", "color": "#111111", "clip": true},
            "encoding": {
              "x": {"field": "c", "type": "quantitative", "scale": {"domain": [0, 1]}, "axis": null},
              "y": {"field": "line", "type": "quantitative", "scale": {"domain": [0.3587, 14.514], "reverse": true, "nice": false, "zero": false}, "axis": null},
              "text": {"field": "txt"}
            }
          }
        ]
      }
    ]
  }
]
}
